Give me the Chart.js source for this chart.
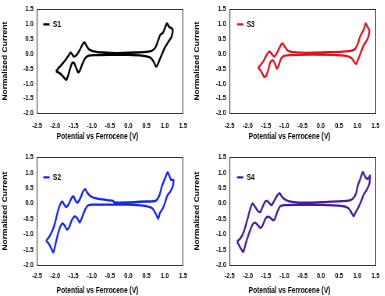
<!DOCTYPE html>
<html>
<head>
<meta charset="utf-8">
<script src="https://cdn.jsdelivr.net/npm/chart.js@4.4.1/dist/chart.umd.min.js"></script>
<style>
html,body{margin:0;padding:0;background:#fff;overflow:hidden;width:385px;height:296px;}
canvas{position:absolute;transform-origin:0 0;}
</style>
</head>
<body>
<canvas id="c1"></canvas>
<canvas id="c3"></canvas>
<canvas id="c2"></canvas>
<canvas id="c4"></canvas>
<script>
// ---- axis settings ----
const X_MIN = -2.5, X_MAX = 1.5, X_STEP = 0.5;
const Y_MIN = -2.0, Y_MAX = 1.5, Y_STEP = 0.5;
const X_TITLE = 'Potential vs Ferrocene (V)';
const Y_TITLE = 'Normalized Current';

// ---- S1 (potential V, normalized current) ----
const S1_V = [-1.98,-1.90,-1.80,-1.70,-1.63,-1.58,-1.54,-1.49,-1.42,-1.33,-1.25,-1.20,-1.15,-1.08,-0.95,-0.70,-0.30,0.20,0.50,0.65,0.75,0.82,0.88,0.95,1.00,1.06,1.12,1.18,1.22,
  1.18,1.10,1.00,0.93,0.86,0.80,0.76,0.70,0.60,0.40,0.00,-0.50,-0.90,-1.10,-1.18,-1.26,-1.32,-1.37,-1.42,-1.48,-1.53,-1.58,-1.64,-1.70,-1.76,-1.85,-1.93,-1.98];
const S1_I = [-0.60,-0.47,-0.33,-0.18,-0.05,0.04,-0.02,-0.10,-0.05,0.12,0.32,0.38,0.28,0.15,0.08,0.04,0.02,0.04,0.06,0.10,0.22,0.45,0.64,0.70,0.85,1.02,0.90,0.86,0.80,
  0.55,0.40,0.20,0.00,-0.20,-0.38,-0.43,-0.28,-0.13,-0.07,-0.04,-0.04,-0.05,-0.07,-0.15,-0.35,-0.55,-0.63,-0.50,-0.32,-0.30,-0.45,-0.70,-0.88,-0.80,-0.68,-0.62,-0.60];

// ---- S3 ----
const S3_V = [-1.72,-1.65,-1.57,-1.50,-1.44,-1.40,-1.35,-1.28,-1.22,-1.15,-1.08,-1.04,-0.98,-0.90,-0.75,-0.40,0.20,0.60,0.85,0.95,1.02,1.07,1.12,1.18,1.23,1.28,1.33,
  1.31,1.25,1.18,1.10,1.03,0.97,0.92,0.85,0.70,0.30,-0.30,-0.85,-1.02,-1.10,-1.16,-1.20,-1.25,-1.31,-1.38,-1.44,-1.50,-1.55,-1.62,-1.68,-1.72];
const S3_I = [-0.48,-0.38,-0.25,-0.08,0.04,0.07,0.00,-0.10,-0.02,0.15,0.32,0.34,0.22,0.10,0.05,0.03,0.05,0.07,0.10,0.17,0.35,0.55,0.68,0.82,1.02,0.90,0.80,
  0.60,0.42,0.30,0.05,-0.18,-0.35,-0.28,-0.15,-0.07,-0.04,-0.03,-0.05,-0.08,-0.20,-0.42,-0.50,-0.35,-0.22,-0.28,-0.55,-0.75,-0.78,-0.62,-0.52,-0.48];

// ---- S2 ----
const S2_V = [-2.25,-2.15,-2.05,-1.98,-1.92,-1.86,-1.81,-1.76,-1.70,-1.63,-1.55,-1.50,-1.45,-1.40,-1.32,-1.24,-1.18,-1.12,-1.02,-0.85,-0.55,-0.42,-0.38,0.00,0.50,0.75,0.85,0.92,0.97,1.03,1.08,1.13,1.17,1.24,
  1.22,1.15,1.07,1.00,0.93,0.87,0.82,0.76,0.65,0.40,0.00,-0.50,-1.00,-1.12,-1.20,-1.28,-1.33,-1.40,-1.47,-1.55,-1.62,-1.68,-1.74,-1.80,-1.86,-1.93,-2.00,-2.05,-2.10,-2.18,-2.25];
const S2_I = [-1.22,-1.05,-0.80,-0.50,-0.22,-0.02,0.06,-0.03,-0.12,-0.02,0.18,0.23,0.10,0.02,0.15,0.38,0.46,0.34,0.22,0.15,0.10,0.08,0.03,0.03,0.06,0.08,0.25,0.55,0.70,0.88,1.01,0.88,0.76,0.76,
  0.55,0.38,0.25,0.00,-0.20,-0.30,-0.50,-0.35,-0.15,-0.07,-0.04,-0.04,-0.04,-0.08,-0.25,-0.50,-0.62,-0.48,-0.42,-0.55,-0.78,-0.85,-0.72,-0.65,-0.75,-1.00,-1.35,-1.58,-1.48,-1.30,-1.22];

// ---- S4 ----
const S4_V = [-2.30,-2.22,-2.15,-2.07,-2.00,-1.93,-1.87,-1.80,-1.72,-1.66,-1.60,-1.53,-1.48,-1.42,-1.35,-1.28,-1.20,-1.13,-1.07,-0.95,-0.75,-0.40,0.20,0.60,0.80,0.88,0.96,1.02,1.07,1.15,1.21,1.26,1.31,1.35,
  1.33,1.25,1.18,1.10,1.02,0.95,0.90,0.84,0.75,0.55,0.00,-0.60,-1.00,-1.12,-1.20,-1.27,-1.31,-1.38,-1.45,-1.52,-1.60,-1.66,-1.73,-1.80,-1.87,-1.95,-2.05,-2.13,-2.20,-2.26,-2.30];
const S4_I = [-1.24,-1.15,-1.02,-0.75,-0.45,-0.15,0.00,-0.12,-0.25,-0.28,-0.12,0.05,0.08,0.02,-0.06,0.08,0.25,0.33,0.22,0.10,0.04,0.02,0.05,0.07,0.10,0.15,0.30,0.60,0.75,1.01,0.88,0.80,0.82,0.90,
  0.62,0.42,0.30,0.05,-0.15,-0.30,-0.42,-0.30,-0.15,-0.08,-0.05,-0.05,-0.06,-0.10,-0.30,-0.52,-0.55,-0.47,-0.43,-0.50,-0.72,-0.80,-0.70,-0.62,-0.68,-0.90,-1.25,-1.57,-1.45,-1.32,-1.24];

// ---- layout (reference pixel geometry) ----
const SX = 0.78;          // horizontal squeeze of the reference figure
const PANEL_W = 195, PANEL_H = 148;
const FONT = 'Liberation Sans, Arial, sans-serif';
const TICK_SIZE = 7.5, TITLE_SIZE = 8.5, LEGEND_SIZE = 8.5;
const BORDER = '#333333';

const PANELS = [
  {canvas:'c1', left:0,   top:0,   V:S1_V, I:S1_I, label:'S1', color:'#000000', T:5,   B:113.3, L:37,   R:183,   lgX:43.3, lgY:24.3, tickY:125.7, titleY:136.5},
  {canvas:'c3', left:192, top:0,   V:S3_V, I:S3_I, label:'S3', color:'#e3121c', T:5,   B:113.3, L:37.5, R:183.5, lgX:45,   lgY:24.3, tickY:125.7, titleY:136.5},
  {canvas:'c2', left:0,   top:148, V:S2_V, I:S2_I, label:'S2', color:'#1426f0', T:8.3, B:117.2, L:37,   R:183,   lgX:43.3, lgY:29.3, tickY:128.3, titleY:142.7},
  {canvas:'c4', left:192, top:148, V:S4_V, I:S4_I, label:'S4', color:'#4a1a9e', T:8.3, B:117.2, L:37.7, R:183.5, lgX:45,   lgY:29.3, tickY:128.3, titleY:142.7}
];

function makeChart(p) {
  const el = document.getElementById(p.canvas);
  el.width = Math.round(PANEL_W / SX);
  el.height = PANEL_H;
  el.style.left = p.left + 'px';
  el.style.top = p.top + 'px';
  el.style.transform = 'scaleX(' + SX + ')';
  const titleLH = TITLE_SIZE * 1.2;
  const tickLH = TICK_SIZE * 1.2;
  const legPad = (p.lgX - p.L) / SX;
  const legTitleLH = 5 * 1.2;
  // chartArea legend is laid out from the canvas top (vertical legend box)
  const legTitlePadTop = Math.max(0, p.lgY - legPad - LEGEND_SIZE / 2 - legTitleLH);
  const fmt = v => Number(v).toFixed(1);
  new Chart(el, {
    type: 'scatter',
    data: {
      datasets: [{
        label: p.label,
        data: p.V.map((v, i) => ({x: v, y: p.I[i]})),
        showLine: true,
        borderColor: p.color,
        backgroundColor: p.color,
        borderWidth: 2.3,
        pointRadius: 0,
        pointHoverRadius: 0,
        tension: 0.2,
        fill: false
      }]
    },
    options: {
      responsive: false,
      animation: false,
      devicePixelRatio: 1,
      events: [],
      layout: {padding: {left: 0, right: 0, top: p.T, bottom: 0}},
      scales: {
        x: {
          type: 'linear', position: 'bottom', min: X_MIN, max: X_MAX,
          ticks: {stepSize: X_STEP, padding: p.tickY - p.B - tickLH / 2, color: '#000',
                  font: {family: FONT, size: TICK_SIZE, weight: 'bold'}, callback: fmt, maxRotation: 0, autoSkip: false},
          grid: {display: false, drawTicks: false},
          border: {display: true, color: BORDER, width: 1},
          afterFit: s => { s.height = (p.titleY - titleLH / 2) - p.B; }
        },
        y: {
          type: 'linear', position: 'left', min: Y_MIN, max: Y_MAX,
          ticks: {stepSize: Y_STEP, padding: 4.5, color: '#000',
                  font: {family: FONT, size: TICK_SIZE, weight: 'bold'}, callback: fmt, autoSkip: false},
          grid: {display: false, drawTicks: false},
          border: {display: true, color: BORDER, width: 1},
          title: {display: true, text: Y_TITLE, color: '#000',
                  font: {family: FONT, size: TITLE_SIZE, weight: 'bold'}, padding: {top: 1.3, bottom: 0}},
          afterFit: s => { s.width = p.L / SX; }
        },
        xTop: {
          type: 'linear', position: 'top', display: true,
          ticks: {display: false}, grid: {display: false, drawTicks: false},
          border: {display: true, color: BORDER, width: 1},
          afterFit: s => { s.height = 0; }
        },
        yRight: {
          type: 'linear', position: 'right', display: true,
          ticks: {display: false}, grid: {display: false, drawTicks: false},
          border: {display: true, color: BORDER, width: 1},
          afterFit: s => { s.width = (PANEL_W - p.R) / SX; }
        }
      },
      plugins: {
        legend: {
          position: 'chartArea', align: 'start',
          labels: {boxWidth: 8, boxHeight: 0, padding: legPad, color: '#000',
                   font: {family: FONT, size: LEGEND_SIZE, weight: 'bold'}},
          title: {display: true, text: '', font: {size: 5}, padding: {top: legTitlePadTop, bottom: 0}}
        },
        title: {
          display: true, position: 'bottom', text: X_TITLE, color: '#000',
          font: {family: FONT, size: TITLE_SIZE, weight: 'bold'},
          padding: {top: 0, bottom: PANEL_H - p.titleY - titleLH / 2}
        },
        tooltip: {enabled: false}
      }
    }
  });
}

PANELS.forEach(makeChart);
</script>
</body>
</html>
